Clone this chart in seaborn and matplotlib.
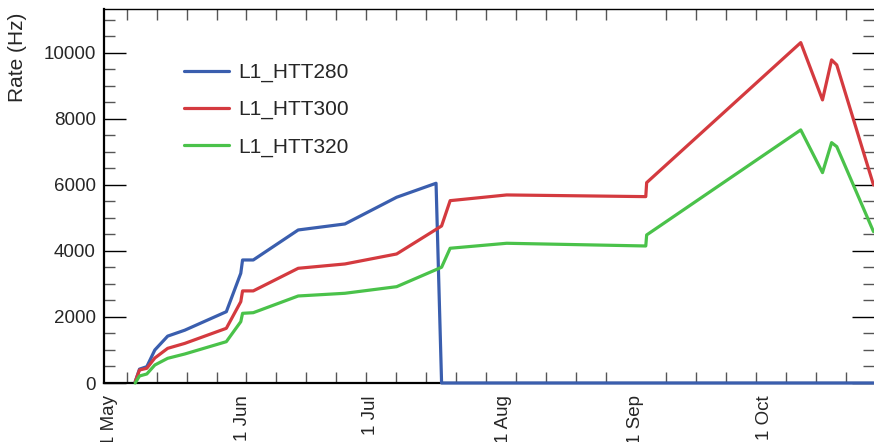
import matplotlib
matplotlib.use("Agg")
import matplotlib.pyplot as plt
import matplotlib.dates as mdates
from matplotlib.ticker import MultipleLocator
import seaborn as sns
import pandas as pd

# ---- data ----
dates_280 = ["2018-05-07 00:00", "2018-05-08 00:00", "2018-05-09 17:00", "2018-05-11 14:00",
             "2018-05-14 14:00", "2018-05-18 14:00", "2018-05-28 07:00", "2018-05-31 16:00",
             "2018-06-01 02:00", "2018-06-03 14:00", "2018-06-14 02:00", "2018-06-25 00:00",
             "2018-07-07 02:00", "2018-07-16 07:00", "2018-07-17 14:00", "2018-10-26 12:00"]
rate_280 = [40, 420, 495, 1000, 1420, 1600, 2160, 3324, 3727, 3727, 4636, 4818, 5627, 6051, 0, 0]

dates_300_320 = ["2018-05-07 00:00", "2018-05-08 00:00", "2018-05-09 17:00", "2018-05-11 14:00",
                 "2018-05-14 14:00", "2018-05-18 14:00", "2018-05-28 07:00", "2018-05-31 16:00",
                 "2018-06-01 02:00", "2018-06-03 14:00", "2018-06-14 02:00", "2018-06-25 00:00",
                 "2018-07-07 02:00", "2018-07-17 14:00", "2018-07-19 14:00", "2018-08-01 19:00",
                 "2018-09-03 07:00", "2018-09-03 12:00", "2018-10-09 12:00", "2018-10-14 14:00",
                 "2018-10-16 17:00", "2018-10-17 22:00", "2018-10-26 12:00"]
rate_300 = [40, 394, 445, 757, 1050, 1200, 1657, 2464, 2790, 2790, 3475, 3606, 3909, 4757,
            5524, 5697, 5646, 6070, 10312, 8576, 9788, 9636, 6000]
rate_320 = [0, 212, 273, 545, 748, 879, 1252, 1858, 2111, 2130, 2636, 2718, 2918, 3506,
            4082, 4233, 4151, 4485, 7667, 6373, 7282, 7161, 4585]

series_names = ["L1_HTT280", "L1_HTT300", "L1_HTT320"]
series_colors = ["#3a5eae", "#d43a3f", "#4ac24a"]
month_ticks = ["2018-05-01", "2018-06-01", "2018-07-01", "2018-08-01", "2018-09-01", "2018-10-01"]
month_labels = ["1 May", "1 Jun", "1 Jul", "1 Aug", "1 Sep", "1 Oct"]

sns.set_style("white")
plt.rcParams["font.family"] = ["Liberation Sans", "DejaVu Sans"]

W, H = 874, 442
fig = plt.figure(figsize=(W / 100, H / 100), dpi=100)
ax = fig.add_axes([104 / W, (H - 383) / H, (873.5 - 104) / W, (383 - 9) / H])

frames = [
    pd.DataFrame({"date": pd.to_datetime(dates_280), "rate": rate_280}),
    pd.DataFrame({"date": pd.to_datetime(dates_300_320), "rate": rate_300}),
    pd.DataFrame({"date": pd.to_datetime(dates_300_320), "rate": rate_320}),
]
for df, name, col in zip(frames, series_names, series_colors):
    sns.lineplot(data=df, x="date", y="rate", ax=ax, color=col, lw=2.3, label=name,
                 sort=False, estimator=None, zorder=3, clip_on=False)

ax.set_xlim(pd.Timestamp("2018-04-29 17:00"), pd.Timestamp("2018-10-26 12:00"))
ax.set_ylim(0, 11330)

# y ticks
ax.yaxis.set_major_locator(MultipleLocator(2000))
ax.yaxis.set_minor_locator(MultipleLocator(500))
ax.tick_params(axis="y", which="major", direction="in", length=16, width=1.0, color="black",
               left=True, right=True, labelsize=13.5, pad=6)
ax.tick_params(axis="y", which="minor", direction="in", length=8, width=1.0, color="#555555",
               left=True, right=True)

# x ticks: month labels, weekly minor ticks
ax.set_xticks(pd.to_datetime(month_ticks))
ax.set_xticklabels(month_labels, rotation=90, fontsize=13.5)
ax.xaxis.set_minor_locator(mdates.WeekdayLocator(byweekday=mdates.SA))
ax.tick_params(axis="x", which="major", length=0, pad=9)
ax.tick_params(axis="x", which="minor", direction="in", length=8, width=1.0, color="#555555",
               bottom=True, top=True)

for side in ["left", "bottom"]:
    ax.spines[side].set_linewidth(1.6)
    ax.spines[side].set_color("black")
ax.spines["top"].set_linewidth(1.0)
ax.spines["top"].set_color("black")
ax.spines["right"].set_visible(False)

ax.set_xlabel("")
ax.set_ylabel("Rate (Hz)", fontsize=15, loc="top")
ax.yaxis.set_label_coords(-0.100, 0.99)

leg = ax.legend(loc="upper left", bbox_to_anchor=(184 / W, 1 - 63 / H),
                bbox_transform=fig.transFigure, frameon=False, fontsize=15,
                handlelength=2.16, handletextpad=0.45, labelspacing=0.86,
                borderpad=0, borderaxespad=0)
for line in leg.get_lines():
    line.set_linewidth(2.3)

fig.savefig("out.png", dpi=100)
